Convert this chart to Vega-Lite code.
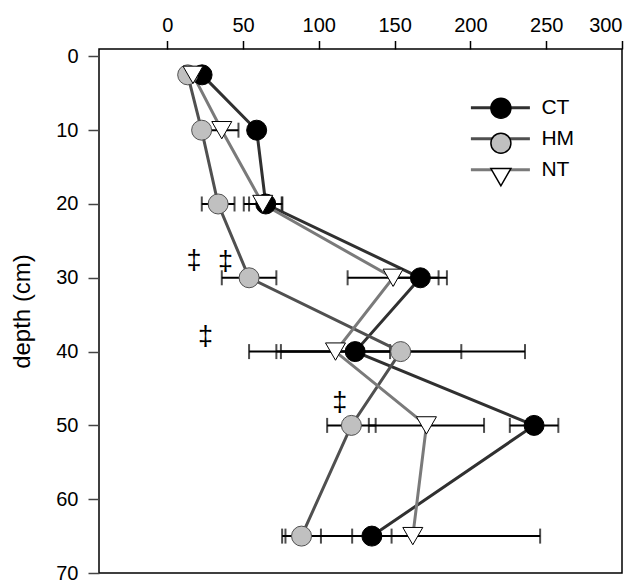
{
  "$schema": "https://vega.github.io/schema/vega-lite/v6.json",
  "width": 523,
  "height": 524,
  "autosize": {"type": "none"},
  "padding": {"left": 99, "top": 49, "right": 20, "bottom": 7},
  "config": {
    "font": "Liberation Sans",
    "view": {"stroke": "black", "strokeWidth": 1.5},
    "axis": {
      "grid": false,
      "domain": false,
      "labelColor": "black",
      "labelFont": "Liberation Sans",
      "labelFontSize": 20,
      "titleFont": "Liberation Sans",
      "titleColor": "black",
      "titleFontWeight": "normal"
    }
  },
  "data": {
    "values": [
      {"treatment": "CT", "depth": 2.5, "value": 23, "err": null},
      {"treatment": "CT", "depth": 10, "value": 59, "err": null},
      {"treatment": "CT", "depth": 20, "value": 65, "err": 11},
      {"treatment": "CT", "depth": 30, "value": 167, "err": 17.5},
      {"treatment": "CT", "depth": 40, "value": 124, "err": 70},
      {"treatment": "CT", "depth": 50, "value": 242, "err": 16},
      {"treatment": "CT", "depth": 65, "value": 135, "err": 13},
      {"treatment": "HM", "depth": 2.5, "value": 13.5, "err": null},
      {"treatment": "HM", "depth": 10, "value": 22.7, "err": null},
      {"treatment": "HM", "depth": 20, "value": 33.6, "err": 10.8},
      {"treatment": "HM", "depth": 30, "value": 54, "err": 18},
      {"treatment": "HM", "depth": 40, "value": 154, "err": 82},
      {"treatment": "HM", "depth": 50, "value": 121.5, "err": 16},
      {"treatment": "HM", "depth": 65, "value": 88.6, "err": 12.8},
      {"treatment": "NT", "depth": 2.5, "value": 17, "err": null},
      {"treatment": "NT", "depth": 10, "value": 36, "err": 11},
      {"treatment": "NT", "depth": 20, "value": 63, "err": 12.5},
      {"treatment": "NT", "depth": 30, "value": 149, "err": 30},
      {"treatment": "NT", "depth": 40, "value": 111, "err": 36},
      {"treatment": "NT", "depth": 50, "value": 171, "err": 38},
      {"treatment": "NT", "depth": 65, "value": 162, "err": 84}
    ]
  },
  "layer": [
    {
      "transform": [{"filter": "isValid(datum.err)"}],
      "mark": {"type": "errorbar", "ticks": true, "color": "black", "thickness": 2, "size": 15},
      "encoding": {
        "x": {
          "field": "value", "type": "quantitative",
          "scale": {"domain": [-45, 300], "nice": false, "zero": false},
          "axis": {"orient": "top", "values": [0, 50, 100, 150, 200, 250, 300], "tickSize": 8.5, "tickWidth": 1.5, "tickColor": "black", "labelPadding": 5, "title": null}
        },
        "xError": {"field": "err"},
        "y": {
          "field": "depth", "type": "quantitative",
          "scale": {"domain": [-1, 70], "reverse": true, "nice": false, "zero": false},
          "axis": {"orient": "left", "values": [0, 10, 20, 30, 40, 50, 60, 70], "tickSize": 11, "tickWidth": 1.5, "tickColor": "#444444", "labelPadding": 10, "title": "depth (cm)", "titleFontSize": 24, "titlePadding": 21}
        }
      }
    },
    {
      "mark": {"type": "line", "strokeWidth": 3},
      "encoding": {
        "x": {"field": "value", "type": "quantitative", "title": null},
        "y": {"field": "depth", "type": "quantitative", "title": "depth (cm)"},
        "order": {"field": "depth", "type": "quantitative"},
        "stroke": {
          "field": "treatment", "type": "nominal",
          "scale": {"range": ["#303030", "#505050", "#7a7a7a"]},
          "legend": {
            "orient": "none", "legendX": 389.9, "legendY": 47.2, "title": null, "padding": 0,
            "symbolType": "M-2.95,0H2.95", "symbolSize": 400, "symbolStrokeWidth": 3,
            "labelFontSize": 21, "labelColor": "black", "labelOffset": 29.5, "rowPadding": 9
          }
        }
      }
    },
    {
      "mark": {"type": "point", "filled": true, "size": 400, "opacity": 1, "strokeWidth": 1},
      "encoding": {
        "x": {"field": "value", "type": "quantitative", "title": null},
        "y": {"field": "depth", "type": "quantitative", "title": "depth (cm)"},
        "stroke": {"condition": {"test": "datum.treatment === 'HM'", "value": "#505050"}, "value": "black"},
        "fill": {
          "field": "treatment", "type": "nominal",
          "scale": {"domain": ["CT", "HM", "NT"], "range": ["black", "#c0c0c0", "white"]},
          "legend": {
            "orient": "none", "legendX": 390.9, "legendY": 48.2, "title": null, "padding": 0,
            "symbolSize": 400, "labelFontSize": 21, "labelExpr": "''", "rowPadding": 9,
            "encode": {"symbols": {"update": {"stroke": {"value": "black"}, "strokeWidth": {"value": 1}}}}
          }
        },
        "shape": {
          "field": "treatment", "type": "nominal",
          "scale": {"domain": ["CT", "HM", "NT"], "range": ["circle", "circle", "triangle-down"]},
          "legend": {
            "orient": "none", "legendX": 390.9, "legendY": 48.2, "title": null, "padding": 0,
            "symbolSize": 400, "labelFontSize": 21, "labelExpr": "''", "rowPadding": 9,
            "encode": {"symbols": {"update": {"stroke": {"value": "black"}, "strokeWidth": {"value": 1}}}}
          }
        }
      }
    },
    {
      "data": {
        "values": [
          {"value": 17.6, "depth": 27.7},
          {"value": 38.5, "depth": 27.9},
          {"value": 25.3, "depth": 38.0},
          {"value": 113.9, "depth": 47.0}
        ]
      },
      "mark": {"type": "text", "text": "‡", "fontSize": 27, "color": "black", "align": "center", "baseline": "middle"},
      "encoding": {
        "x": {"field": "value", "type": "quantitative", "title": null},
        "y": {"field": "depth", "type": "quantitative", "title": "depth (cm)"}
      }
    }
  ]
}
